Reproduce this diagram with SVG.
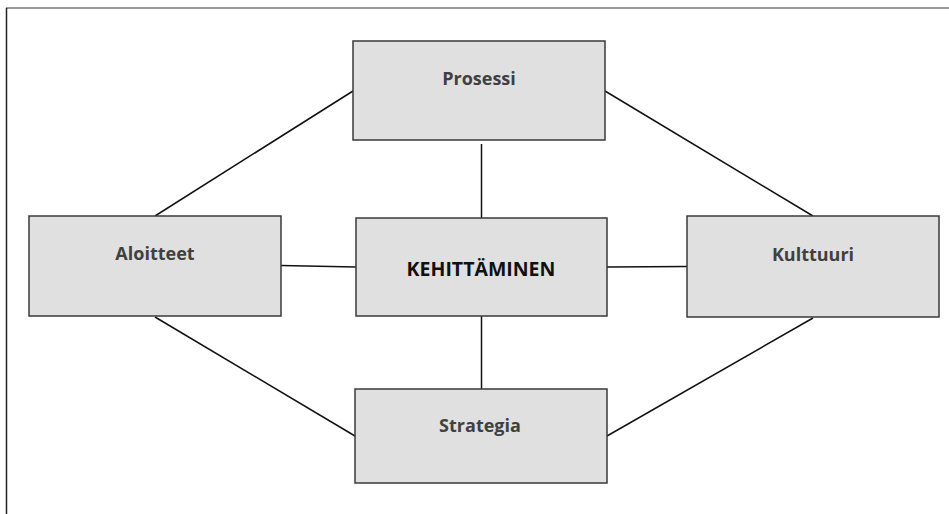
<svg xmlns="http://www.w3.org/2000/svg" width="949" height="514" viewBox="0 0 949 514">
  <style>
    .box { fill: #e0e0e0; stroke: #3a3a3a; stroke-width: 1.5; }
    .lbl { font-family: "Open Sans", "Liberation Sans", sans-serif; font-weight: bold; font-size: 18px; fill: #404040; text-anchor: middle; dominant-baseline: central; }
    .core { fill: #111111; font-size: 19.5px; }
    .link { stroke: #111111; stroke-width: 1.5; fill: none; }
  </style>
  <rect width="949" height="514" fill="#ffffff"/>
  <!-- frame: top and left edges only -->
  <line x1="6" y1="8" x2="949" y2="8" stroke="#7a7a7a" stroke-width="1.5"/>
  <line x1="6.5" y1="8" x2="6.5" y2="514" stroke="#222222" stroke-width="1.5"/>

  <g id="connectors">
    <line class="link" x1="155" y1="216" x2="353" y2="91"/>
    <line class="link" x1="605" y1="91" x2="813" y2="216"/>
    <line class="link" x1="481.5" y1="144" x2="481.5" y2="218"/>
    <line class="link" x1="281" y1="265.5" x2="356" y2="267"/>
    <line class="link" x1="607" y1="267" x2="687" y2="266.5"/>
    <line class="link" x1="481.5" y1="316" x2="481.5" y2="389"/>
    <line class="link" x1="155" y1="317" x2="355" y2="436"/>
    <line class="link" x1="813" y1="318" x2="607" y2="436"/>
  </g>

  <g id="prosessi">
    <rect class="box" x="353" y="41" width="252" height="99"/>
    <text class="lbl" x="479" y="78">Prosessi</text>
  </g>
  <g id="aloitteet">
    <rect class="box" x="29" y="216" width="252" height="100"/>
    <text class="lbl" x="155" y="253">Aloitteet</text>
  </g>
  <g id="kehittaminen">
    <rect class="box" x="356" y="218" width="251" height="98"/>
    <text class="lbl core" x="481" y="268">KEHITTÄMINEN</text>
  </g>
  <g id="kulttuuri">
    <rect class="box" x="687" y="216" width="252" height="101"/>
    <text class="lbl" x="813" y="254">Kulttuuri</text>
  </g>
  <g id="strategia">
    <rect class="box" x="355" y="389" width="252" height="94"/>
    <text class="lbl" x="480" y="425">Strategia</text>
  </g>
</svg>
